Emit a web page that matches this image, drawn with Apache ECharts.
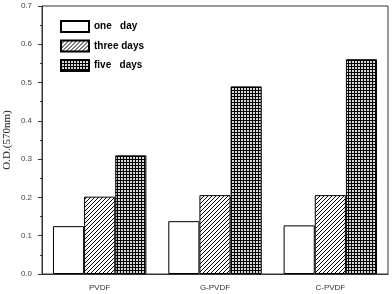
<!DOCTYPE html>
<html><head><meta charset="utf-8">
<script src="https://cdn.jsdelivr.net/npm/echarts@6/dist/echarts.min.js"></script>
<style>html,body{margin:0;padding:0;background:#fff}#c{width:392px;height:294px}</style>
</head><body><div id="c"></div>
<script>
var categories = ['PVDF', 'G-PVDF', 'C-PVDF'];
var seriesNames = ['one   day', 'three days', 'five   days'];
var oneDay = [0.125, 0.138, 0.127];
var threeDays = [0.202, 0.206, 0.206];
var fiveDays = [0.31, 0.49, 0.561];
var yTicks = ['0.0','0.1','0.2','0.3','0.4','0.5','0.6','0.7'];

function hatch() {
  var c = document.createElement('canvas'); c.width = 4; c.height = 4;
  var g = c.getContext('2d');
  g.fillStyle = '#fff'; g.fillRect(0,0,4,4);
  g.strokeStyle = '#000'; g.lineWidth = 1;
  g.beginPath();
  g.moveTo(0,4); g.lineTo(4,0);
  g.moveTo(-1,1); g.lineTo(1,-1);
  g.moveTo(3,5); g.lineTo(5,3);
  g.stroke();
  return c;
}
function gridPat() {
  var c = document.createElement('canvas'); c.width = 3; c.height = 3;
  var g = c.getContext('2d');
  g.fillStyle = '#d8d8d8'; g.fillRect(0,0,3,3);
  g.fillStyle = '#000';
  g.fillRect(0,0,3,1); g.fillRect(0,0,1,3);
  return c;
}
var chart = echarts.init(document.getElementById('c'));
var base = {type:'bar', barGap:'0%', barCategoryGap:'19%', xAxisIndex:0};
chart.setOption({
  animation:false,
  grid:{left:42, right:4, top:6, bottom:20, show:true, borderColor:'#333', borderWidth:1,
    containLabel:false, outerBoundsMode:'none'},
  legend:{orient:'vertical', left:55, top:15, itemWidth:28, itemHeight:11, itemGap:6.5, icon:'rect',
    textStyle:{fontFamily:'Liberation Sans, Arial', fontWeight:'bold', fontSize:10, color:'#000'},
    data:seriesNames},
  xAxis:[{type:'category', data:categories,
    axisLine:{lineStyle:{color:'#333', width:1}},
    axisTick:{alignWithLabel:true, length:4, inside:false, lineStyle:{color:'#333'}},
    axisLabel:{fontSize:8, color:'#333', fontFamily:'Liberation Sans, Arial', margin:10}},
   {type:'category', data:categories, position:'bottom',
    axisLine:{show:false}, axisLabel:{show:false},
    axisTick:{length:4, lineStyle:{color:'#333'}}}],
  yAxis:{type:'value', min:0, max:0.7, interval:0.1,
    name:'O.D.(570nm)', nameLocation:'middle', nameGap:29, nameMoveOverlap:false,
    nameTextStyle:{fontFamily:'Liberation Serif, Times New Roman', fontSize:11, color:'#222'},
    axisLine:{show:true, lineStyle:{color:'#333'}},
    axisTick:{show:true, length:4, lineStyle:{color:'#333'}},
    minorTick:{show:true, splitNumber:2, length:2, lineStyle:{color:'#333'}},
    splitLine:{show:false},
    axisLabel:{fontSize:8, color:'#444', fontFamily:'Liberation Sans, Arial', margin:10,
      formatter:function(v){ return yTicks[Math.round(v*10)]; }}},
  series:[
    Object.assign({name:seriesNames[0], data:oneDay, itemStyle:{color:'#fff', borderColor:'#000', borderWidth:1}}, base),
    Object.assign({name:seriesNames[1], data:threeDays, itemStyle:{color:{image:hatch(), repeat:'repeat'}, borderColor:'#000', borderWidth:1}}, base),
    Object.assign({name:seriesNames[2], data:fiveDays, itemStyle:{color:{image:gridPat(), repeat:'repeat'}, borderColor:'#000', borderWidth:1}}, base)
  ]
});
</script></body></html>
